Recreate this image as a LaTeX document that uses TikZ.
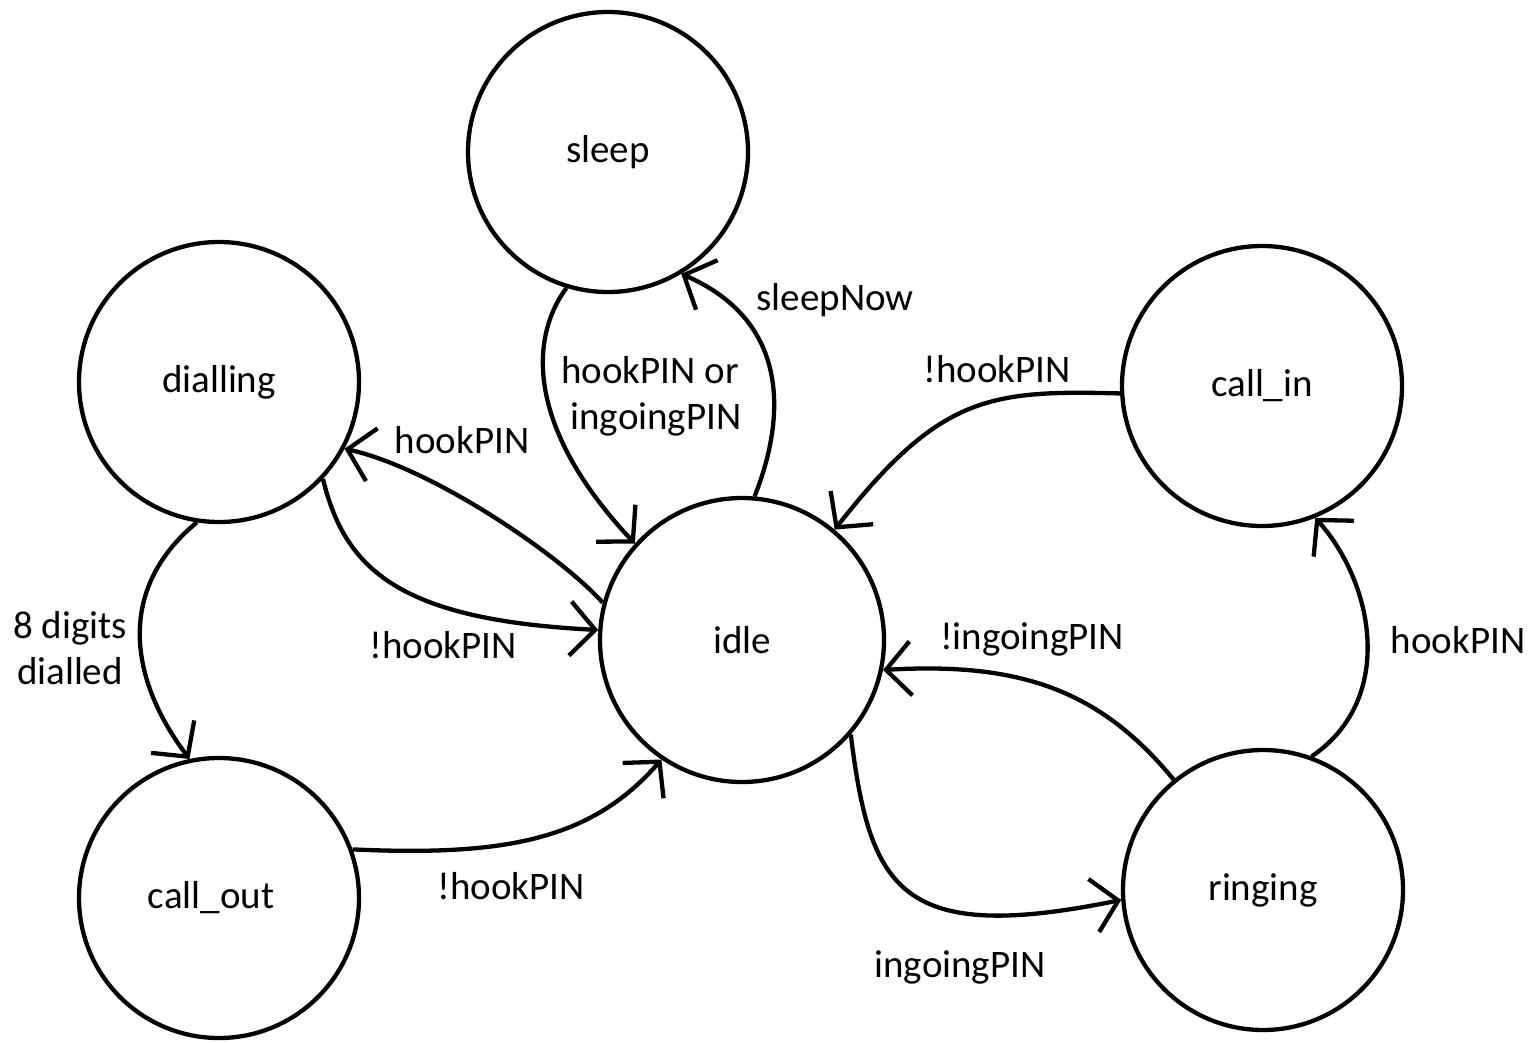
\documentclass[tikz,border=0pt]{standalone}
\usepackage{fontspec}
\setmainfont{Carlito}
\usetikzlibrary{arrows.meta}
\begin{document}
\begin{tikzpicture}[x=1pt,y=-1pt,
  state/.style={draw,circle,line width=4.3pt,minimum size=280pt,inner sep=0pt,font=\fontsize{39}{46}\selectfont},
  lbl/.style={font=\fontsize{39}{46}\selectfont,align=center,inner sep=0pt},
  conn/.style={line width=4.3pt,-{Straight Barb[length=25pt,width=54pt]}}]
\fill[white] (0,0) rectangle (1531,1042);
\useasboundingbox (0,0) rectangle (1531,1042);
\node[state] (sleep) at (608,152) {\raisebox{-3pt}{sleep}};
\node[state] (dialling) at (219,382) {\raisebox{-3pt}{dialling}};
\node[state] (callin) at (1262,386) {\raisebox{-2pt}{call\_in}};
\node[state,minimum size=284pt] (idle) at (742,640) {\raisebox{-3pt}{idle}};
\node[state] (callout) at (219,898) {\raisebox{-2pt}{call\_out}\kern16pt};
\node[state] (ringing) at (1263,890) {ringing};
% connectors
\draw[conn] (sleep.253) .. controls (528,340) and (528,430) .. (idle.138);
\draw[conn] (idle.85) .. controls (785,420) and (792,322) .. (sleep.-59);
\draw[conn] (idle.165) .. controls (560,555) and (432,468) .. (dialling.-28);
\draw[conn] (dialling.-43) .. controls (345,570) and (400,620) .. (idle.176);
\draw[conn] (dialling.-99) .. controls (115,590) and (130,680) .. (callout.102);
\draw[conn] (callout.20) .. controls (500,856) and (590,842) .. (idle.-124);
\draw[conn] (callin.183) .. controls (990,390) and (940,395) .. (idle.50);
\draw[conn] (ringing.129) .. controls (1100,690) and (1020,662) .. (idle.-12);
\draw[conn] (idle.-41) .. controls (870,890) and (900,945) .. (ringing.184);
\draw[conn] (ringing.70) .. controls (1395,700) and (1375,585) .. (callin.-68);
% labels
\node[lbl] (l1) at (650,396) {hookPIN or\\\hspace{12pt}ingoingPIN};
\node[lbl] (l2) at (835,300) {sleepNow};
\node[lbl] (l3) at (462,440) {hookPIN};
\node[lbl] (l4) at (443,645) {!hookPIN};
\node[lbl] (l5) at (70,648) {8 digits\\dialled};
\node[lbl] (l6) at (511,886) {!hookPIN};
\node[lbl] (l7) at (997,369) {!hookPIN};
\node[lbl] (l8) at (1032,639) {!ingoingPIN};
\node[lbl] (l9) at (1458,640) {hookPIN};
\node[lbl] (l10) at (960,967) {ingoingPIN};
\end{tikzpicture}
\end{document}
